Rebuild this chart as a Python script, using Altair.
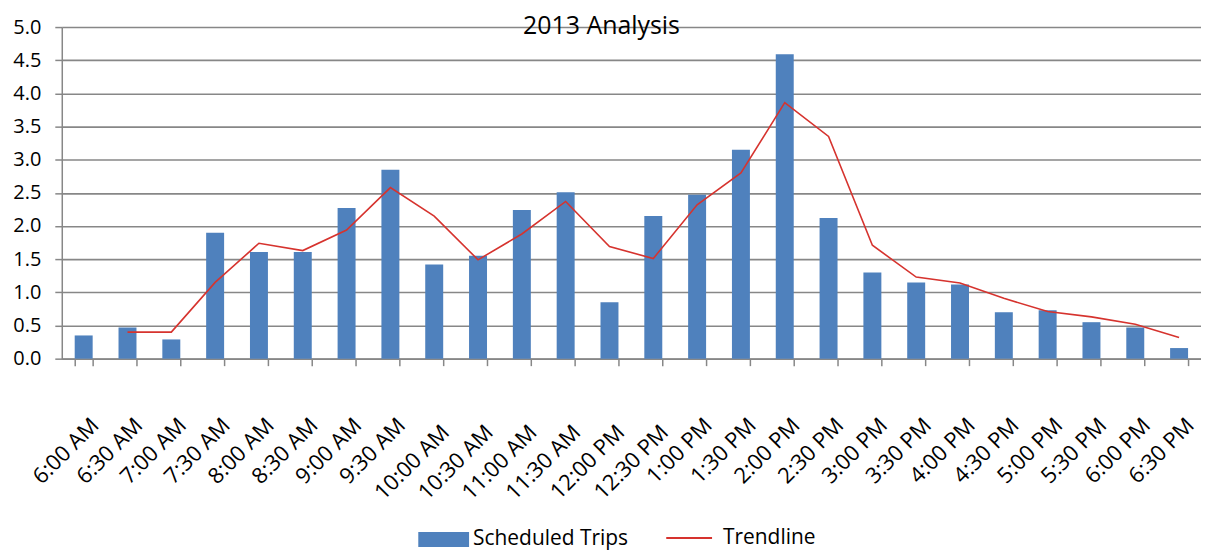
import altair as alt
import pandas as pd

times = ["6:00 AM", "6:30 AM", "7:00 AM", "7:30 AM", "8:00 AM", "8:30 AM", "9:00 AM",
         "9:30 AM", "10:00 AM", "10:30 AM", "11:00 AM", "11:30 AM", "12:00 PM", "12:30 PM",
         "1:00 PM", "1:30 PM", "2:00 PM", "2:30 PM", "3:00 PM", "3:30 PM", "4:00 PM",
         "4:30 PM", "5:00 PM", "5:30 PM", "6:00 PM", "6:30 PM"]
trips = [0.35, 0.47, 0.29, 1.90, 1.61, 1.61, 2.27, 2.85, 1.42, 1.55, 2.24, 2.51, 0.85,
         2.15, 2.47, 3.15, 4.59, 2.12, 1.30, 1.15, 1.12, 0.70, 0.73, 0.55, 0.47, 0.16]
trend = [None, 0.40, 0.40, 1.15, 1.74, 1.63, 1.94, 2.58, 2.15, 1.49, 1.88, 2.37, 1.69,
         1.51, 2.32, 2.80, 3.86, 3.35, 1.71, 1.23, 1.14, 0.91, 0.71, 0.63, 0.52, 0.32]
series_names = ["Scheduled Trips", "Trendline"]
series_colors = ["#4F81BD", "#D6332E"]
y_ticks = [0, 0.5, 1.0, 1.5, 2.0, 2.5, 3.0, 3.5, 4.0, 4.5, 5.0]

rows = []
for t, v in zip(times, trips):
    rows.append({"time": t, "value": v, "series": series_names[0]})
for t, v in zip(times, trend):
    if v is not None:
        rows.append({"time": t, "value": v, "series": series_names[1]})
df = pd.DataFrame(rows)

FONT = "Open Sans"
GRID = "#878787"
LEG_Y = 489

bar_fill = alt.Fill(
    "series:N", scale=alt.Scale(domain=[series_names[0]], range=[series_colors[0]]),
    legend=alt.Legend(title=None, orient="none", legendX=358, legendY=LEG_Y,
                      symbolType="M-1,-0.294H1V0.294H-1Z", symbolSize=2601,
                      symbolStrokeWidth=0, labelFont=FONT, labelFontSize=21,
                      labelColor="black", labelOffset=4, padding=0))
line_stroke = alt.Stroke(
    "series:N", scale=alt.Scale(domain=[series_names[1]], range=[series_colors[1]]),
    legend=alt.Legend(title=None, orient="none", legendX=606, legendY=LEG_Y,
                      symbolType="stroke", symbolSize=2116, symbolStrokeWidth=2,
                      labelFont=FONT, labelFontSize=21, labelColor="black",
                      labelOffset=10, padding=0))

x = alt.X("time:N", sort=times,
          scale=alt.Scale(paddingInner=0.59, paddingOuter=0.295),
          axis=alt.Axis(title=None, labelAngle=-45, labelAlign="right", labelBaseline="middle",
                        labelFont=FONT, labelFontSize=22, labelColor="black",
                        labelPadding={"condition": {"test": "length(datum.label) > 7", "value": 63},
                                      "value": 56},
                        labelOffset=11, labelOverlap=False,
                        tickBand="extent", tickSize=7, tickColor=GRID, tickWidth=1.5,
                        domainColor=GRID, domainWidth=1.5, grid=False))
y = alt.Y("value:Q", scale=alt.Scale(domain=[0, 5], nice=False),
          axis=alt.Axis(title=None, values=y_ticks, format=".1f", labelFont=FONT,
                        labelFontSize=20, labelColor="black", labelPadding=14,
                        tickSize=7, tickColor=GRID, tickWidth=1.5, domainColor=GRID,
                        domainWidth=1.5, gridColor=GRID, gridWidth=1.6))

base = alt.Chart(df)
bars = base.transform_filter(alt.datum.series == series_names[0]).mark_bar().encode(
    x=x, y=y, fill=bar_fill)
line = base.transform_filter(alt.datum.series == series_names[1]).mark_line(
    strokeWidth=1.6).encode(x=x, y=y, stroke=line_stroke)

chart = alt.layer(bars, line).resolve_scale(fill="independent", stroke="independent").properties(
    width=1144, height=333,
    autosize="none",
    padding={"left": 54, "top": 18, "right": 0, "bottom": 192},
    title=alt.Title("2013 Analysis", font=FONT, fontSize=25, fontWeight="normal",
                    color="black", anchor="middle", frame="group", baseline="alphabetic",
                    offset=0, dx=-30, dy=42),
).configure_view(stroke=None)

chart.save("out.html", embed_options={"renderer": "svg", "actions": False})
